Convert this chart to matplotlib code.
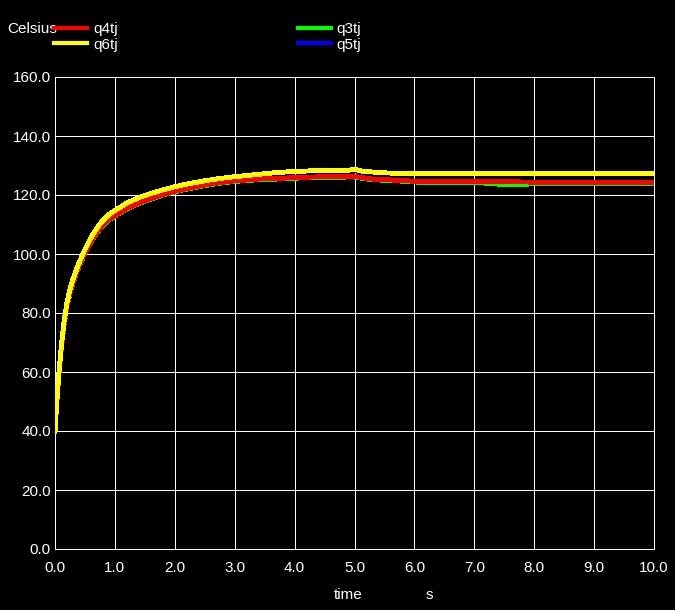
import matplotlib
matplotlib.use("Agg")
import matplotlib.pyplot as plt
from matplotlib.lines import Line2D

plt.rcParams['font.family'] = ['Liberation Sans', 'DejaVu Sans']

time = [0, 0.03, 0.067, 0.1, 0.15, 0.2, 0.25, 0.3, 0.4, 0.5, 0.6, 0.7, 0.8, 0.9,
        1.0, 1.2, 1.4, 1.6, 1.8, 2.0, 2.25, 2.5, 2.75, 3.0, 3.4, 3.7, 4.0, 4.3,
        4.6, 4.9, 5.0, 5.15, 5.3, 5.5, 5.8, 6.1, 7.0, 7.4, 7.9, 8.0, 9.0, 10.0]

q6tj = [40, 50, 60, 67.5, 77, 83.5, 88, 91.5, 97, 101.5, 105.5, 108.8, 111.4, 113.4,
        114.7, 117.3, 119.1, 120.5, 121.7, 122.8, 123.9, 124.8, 125.6, 126.2, 127.0,
        127.6, 128.0, 128.2, 128.3, 128.4, 128.7, 128.0, 127.8, 127.5, 127.3, 127.3,
        127.3, 127.3, 127.3, 127.3, 127.3, 127.3]
q5tj = [40, 49.9, 59.9, 67.4, 76.9, 83.4, 87.9, 91.4, 96.9, 101.4, 105.4, 108.7,
        111.3, 113.3, 114.6, 117.2, 118.9, 120.3, 121.5, 122.6, 123.7, 124.6, 125.4,
        126.0, 126.8, 127.4, 127.8, 128.0, 128.1, 128.2, 128.5, 127.8, 127.6, 127.3,
        127.2, 127.2, 127.2, 127.2, 127.2, 127.2, 127.2, 127.2]
q4tj = [40, 49.5, 59.3, 66.8, 76.2, 82.6, 87.0, 90.5, 96.0, 100.4, 104.3, 107.4,
        109.9, 111.8, 113.0, 115.5, 117.3, 118.8, 120.2, 121.3, 122.4, 123.4, 124.2,
        124.8, 125.4, 125.6, 125.9, 126.1, 126.2, 126.3, 126.3, 125.8, 125.4, 125.2,
        124.9, 124.5, 124.5, 124.5, 124.4, 124.2, 124.2, 124.2]
q3tj = [40, 49.4, 59.2, 66.7, 76.1, 82.4, 86.8, 90.3, 95.8, 100.2, 104.1, 107.2,
        109.7, 111.6, 112.8, 115.3, 117.1, 118.6, 120.0, 121.1, 122.2, 123.2, 124.0,
        124.6, 125.2, 125.4, 125.7, 125.9, 126.0, 126.1, 126.1, 125.6, 125.2, 125.0,
        124.7, 124.3, 124.3, 123.7, 123.7, 124.0, 124.0, 124.0]

xticks = [0, 1, 2, 3, 4, 5, 6, 7, 8, 9, 10]
yticks = [0, 20, 40, 60, 80, 100, 120, 140, 160]

fig = plt.figure(figsize=(6.75, 6.1), dpi=100, facecolor='black')
ax = fig.add_axes([55/675, 1 - 549/610, (654 - 55)/675, (549 - 77)/610])
ax.set_facecolor('black')

lw = 2.8
ax.plot(time, q3tj, color='#00ff00', lw=lw, zorder=3, antialiased=False)
ax.plot(time, q5tj, color='#0000ff', lw=lw, zorder=4, antialiased=False)
ax.plot(time, q4tj, color='#ff0000', lw=lw, zorder=5, antialiased=False)
ax.plot(time, q6tj, color='#ffff00', lw=lw, zorder=6, antialiased=False)

ax.set_xlim(0, 10)
ax.set_ylim(0, 160)
ax.set_xticks(xticks)
ax.set_yticks(yticks)
ax.set_xticklabels([f"{v:.1f}" for v in xticks])
ax.set_yticklabels([f"{v:.1f}" for v in yticks])
ax.tick_params(axis='both', length=0, colors='white', labelsize=11)
ax.tick_params(axis='x', pad=9)
ax.tick_params(axis='y', pad=3)
ax.grid(True, color='white', lw=0.72, antialiased=False)
ax.set_axisbelow(True)
for s in ax.spines.values():
    s.set_color('white')
    s.set_linewidth(0.72)
    s.set_antialiased(False)

fig.text(348/675, 1 - 595/610, 'time', color='white', fontsize=11, ha='center', va='center')
fig.text(429/675, 1 - 595/610, 's', color='white', fontsize=11, ha='center', va='center')
fig.text(7/675, 1 - 29/610, 'Celsius', color='white', fontsize=11, ha='left', va='center')

handles = [Line2D([], [], color='#ff0000', lw=3),
           Line2D([], [], color='#ffff00', lw=3),
           Line2D([], [], color='#00ff00', lw=3),
           Line2D([], [], color='#0000ff', lw=3)]
labels = ['q4tj', 'q6tj', 'q3tj', 'q5tj']
leg = fig.legend(handles, labels, ncol=2, loc='upper left',
                 bbox_to_anchor=(54/675, 1 - 22/610), frameon=False,
                 fontsize=11, handlelength=2.16, handletextpad=0.39,
                 columnspacing=11.8, labelspacing=0.11, borderpad=0,
                 borderaxespad=0)
for t in leg.get_texts():
    t.set_color('white')

fig.savefig('out.png', dpi=100, facecolor='black')
